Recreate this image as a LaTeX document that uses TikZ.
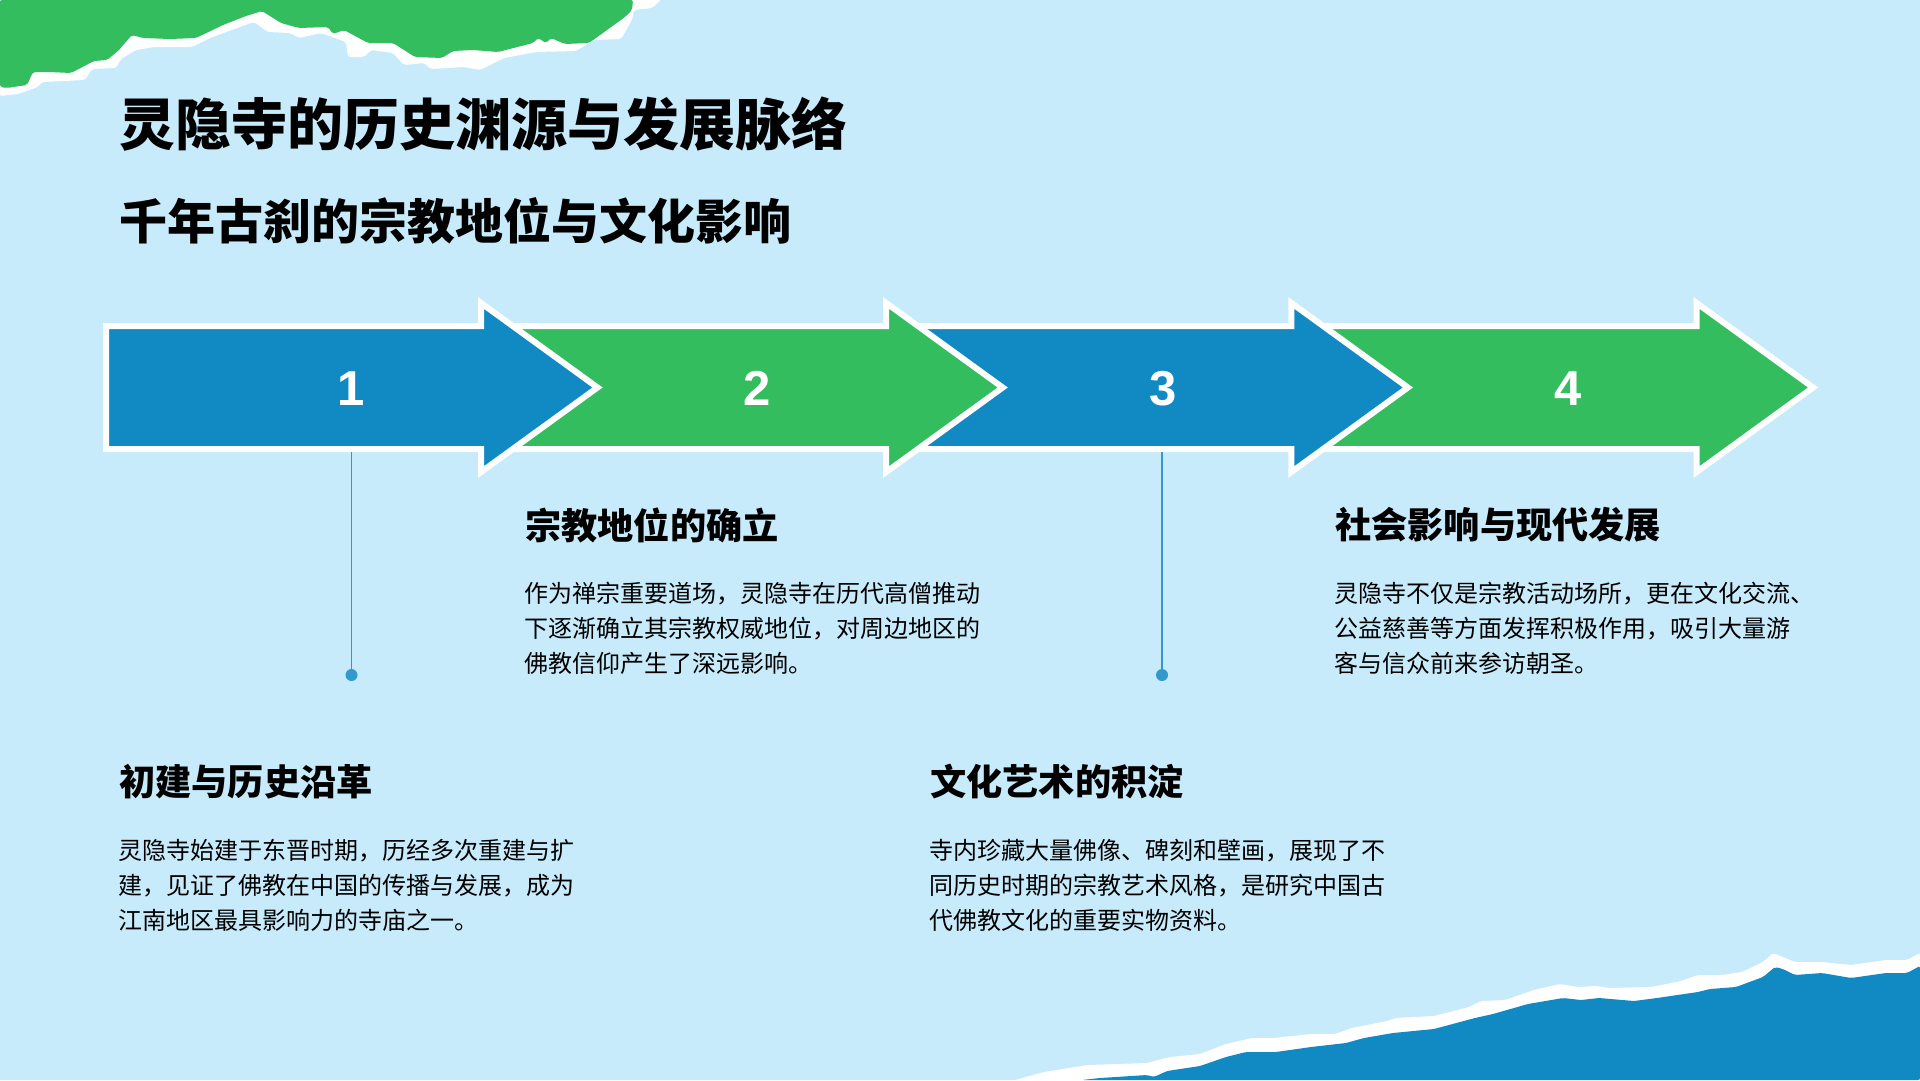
\documentclass[tikz,border=0pt]{standalone}
\usepackage{fontspec}
\setmainfont{Noto Sans CJK SC}
\newfontfamily\numfont{Liberation Sans}
\definecolor{pagebg}{HTML}{C8EBFB}
\definecolor{stepblue}{HTML}{118AC4}
\definecolor{stepgreen}{HTML}{33BD5E}
\definecolor{stemblue}{HTML}{3399CC}
\tikzset{
  title/.style={anchor=west,inner sep=0pt,font=\fontsize{56}{60}\selectfont\bfseries},
  subtitle/.style={anchor=west,inner sep=0pt,font=\fontsize{48}{52}\selectfont\bfseries},
  heading/.style={anchor=west,inner sep=0pt,font=\fontsize{36.2}{40}\selectfont\bfseries},
  para/.style={anchor=north west,inner sep=0pt,align=left,font=\fontsize{24}{35}\selectfont},
  number/.style={inner sep=0pt,text=white,font=\fontsize{49}{52}\numfont\bfseries},
  stepdot/.style={circle,fill=stemblue,inner sep=0pt,minimum size=12pt},
  stem/.style={draw=stemblue,line width=1.8pt},
  torn/.style={rounded corners=2pt}
}
\begin{document}
\begin{tikzpicture}[x=1pt,y=-1pt]
  \useasboundingbox (0,0) rectangle (1920,1080);
  \fill [pagebg] (0,0) rectangle (1920,1080);
  % torn paper corners
  \fill [white,torn] (0,0) -- (0,96) -- (18,94) -- (38,87) -- (42,82) -- (85,80) -- (92,69) -- (116,68) -- (121,59) -- (136,50) -- (154,47) -- (192,47) -- (210,38) -- (237,28) -- (254,22) -- (268,32) -- (290,33) -- (299,38) -- (321,33) -- (346,42) -- (348,57) -- (364,57) -- (371,50) -- (393,53) -- (404,65) -- (424,63) -- (431,69) -- (464,67) -- (480,70) -- (504,58) -- (536,52) -- (576,51) -- (594,40) -- (621,39) -- (632,20) -- (634,10) -- (652,8) -- (661,0) -- cycle;
  \fill [stepgreen,torn] (0,0) -- (0,87) -- (7,88) -- (20,86) -- (27,85) -- (33,72) -- (49,72) -- (71,73) -- (94,61) -- (107,60) -- (118,51) -- (132,35) -- (143,38) -- (170,39) -- (196,38) -- (223,25) -- (246,16) -- (262,11) -- (281,23) -- (299,28) -- (328,27) -- (333,34) -- (344,30) -- (368,43) -- (393,43) -- (415,57) -- (442,58) -- (453,51) -- (473,50) -- (498,52) -- (533,43) -- (538,38) -- (546,43) -- (551,38) -- (565,44) -- (589,43) -- (607,30) -- (625,17) -- (632,10) -- (633,0) -- cycle;
  \fill [white,torn] (1920,1080) -- (1015,1080) -- (1044,1072) -- (1088,1065) -- (1147,1063) -- (1170,1057) -- (1200,1054) -- (1226,1044) -- (1252,1038) -- (1273,1038) -- (1311,1034) -- (1335,1034) -- (1352,1028) -- (1387,1021) -- (1396,1018) -- (1434,1016) -- (1469,1007) -- (1481,1001) -- (1505,1000) -- (1534,990) -- (1560,984) -- (1578,987) -- (1596,986) -- (1610,988) -- (1651,987) -- (1681,981) -- (1698,975) -- (1722,975) -- (1742,972) -- (1763,962) -- (1773,953) -- (1783,957) -- (1795,962) -- (1822,962) -- (1851,965) -- (1886,960) -- (1907,960) -- (1920,953) -- cycle;
  \fill [stepblue,torn] (1920,1080) -- (1082,1080) -- (1100,1078) -- (1147,1075) -- (1154,1077) -- (1167,1071) -- (1200,1066) -- (1226,1057) -- (1246,1052) -- (1276,1052) -- (1311,1047) -- (1346,1043) -- (1364,1038) -- (1393,1033) -- (1434,1029) -- (1475,1018) -- (1493,1014) -- (1528,1004) -- (1563,998) -- (1581,1000) -- (1599,998) -- (1634,1001) -- (1657,998) -- (1698,992) -- (1710,989) -- (1736,987) -- (1763,977) -- (1775,967) -- (1783,969) -- (1795,975) -- (1822,973) -- (1851,978) -- (1886,973) -- (1907,973) -- (1920,966) -- cycle;
  % titles
  \node [title] (title) at (119,124) {灵隐寺的历史渊源与发展脉络};
  \node [subtitle] (subtitle) at (119,221) {千年古刹的宗教地位与文化影响};
  % arrows, last one first
  \foreach \i/\col in {3/stepgreen,2/stepblue,1/stepgreen,0/stepblue} {
    \draw [white,fill=\col,line width=6pt,miter limit=10]
      (106+405.2*\i,326) -- (481+405.2*\i,326) -- (481+405.2*\i,303) -- (597.5+405.2*\i,387.5)
      -- (481+405.2*\i,472) -- (481+405.2*\i,449) -- (106+405.2*\i,449) -- cycle;
  }
  \node [number] (num1) at (351.5,388.5) {1};
  \node [number] (num2) at (757.5,388.5) {2};
  \node [number] (num3) at (1163,388.5) {3};
  \node [number] (num4) at (1568,388.5) {4};
  % stems
  \coordinate (base1) at (351.5,452);
  \coordinate (base3) at (1162,452);
  \node [stepdot] (dot1) at (351.5,675) {};
  \node [stepdot] (dot3) at (1162,675) {};
  \draw [stem] (base1) -- (dot1);
  \draw [stem] (base3) -- (dot3);
  % texts
  \node [heading] (head2) at (525,525) {宗教地位的确立};
  \node [para] (text2) at (524,582) {作为禅宗重要道场，灵隐寺在历代高僧推动\\下逐渐确立其宗教权威地位，对周边地区的\\佛教信仰产生了深远影响。};
  \node [heading] (head4) at (1335,525) {社会影响与现代发展};
  \node [para] (text4) at (1334,582) {灵隐寺不仅是宗教活动场所，更在文化交流、\\公益慈善等方面发挥积极作用，吸引大量游\\客与信众前来参访朝圣。};
  \node [heading] (head1) at (119,782) {初建与历史沿革};
  \node [para] (text1) at (118,839) {灵隐寺始建于东晋时期，历经多次重建与扩\\建，见证了佛教在中国的传播与发展，成为\\江南地区最具影响力的寺庙之一。};
  \node [heading] (head3) at (930,782) {文化艺术的积淀};
  \node [para] (text3) at (929,839) {寺内珍藏大量佛像、碑刻和壁画，展现了不\\同历史时期的宗教艺术风格，是研究中国古\\代佛教文化的重要实物资料。};
\end{tikzpicture}
\end{document}
